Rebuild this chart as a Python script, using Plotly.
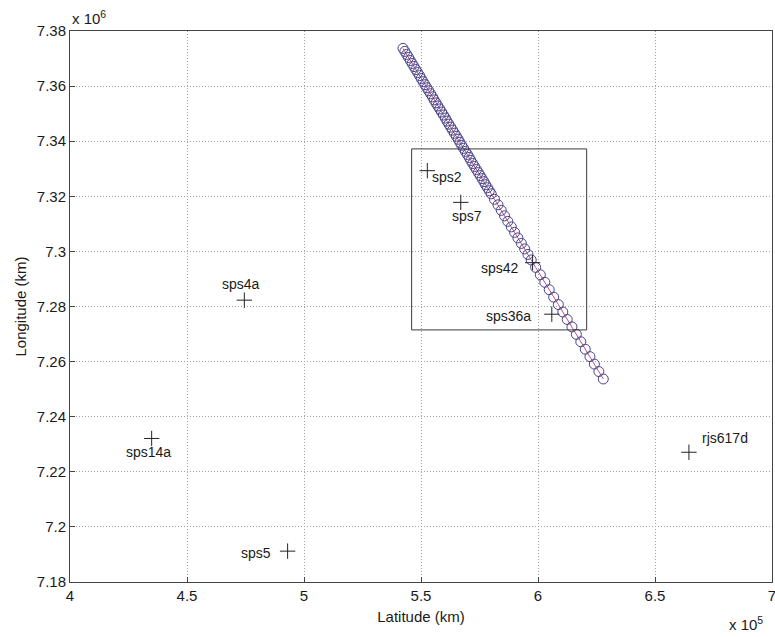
import plotly.graph_objects as go

# Station positions (x in units of 1e5 km, y in units of 1e6 km)
station_names = ["sps2", "sps7", "sps42", "sps36a", "sps4a", "sps14a", "sps5", "rjs617d"]
station_x = [5.527, 5.670, 5.977, 6.059, 4.745, 4.349, 4.930, 6.645]
station_y = [7.3293, 7.3178, 7.2959, 7.2772, 7.2823, 7.2321, 7.1912, 7.2271]

# Track points (circles)
track_x = [5.423, 5.431, 5.439, 5.447, 5.454, 5.462, 5.470, 5.478, 5.486, 5.494,
           5.501, 5.509, 5.517, 5.525, 5.533, 5.541, 5.549, 5.556, 5.564, 5.572,
           5.580, 5.588, 5.596, 5.604, 5.611, 5.619, 5.627, 5.635, 5.643, 5.651,
           5.659, 5.666, 5.674, 5.682, 5.690, 5.698, 5.706, 5.713, 5.721, 5.729,
           5.737, 5.745, 5.753, 5.761, 5.769, 5.776, 5.784, 5.792, 5.800,
           5.814, 5.829, 5.843, 5.857, 5.871, 5.886, 5.900, 5.914, 5.929, 5.943,
           5.957, 5.971,
           5.990, 6.010, 6.029, 6.048, 6.067, 6.087, 6.106, 6.125, 6.145, 6.164,
           6.183, 6.202, 6.222, 6.241, 6.260, 6.279]
track_y = [7.3737, 7.3726, 7.3715, 7.3704, 7.3693, 7.3682, 7.3671, 7.3660, 7.3649, 7.3638,
           7.3627, 7.3616, 7.3605, 7.3594, 7.3583, 7.3572, 7.3561, 7.3550, 7.3539, 7.3528,
           7.3517, 7.3506, 7.3495, 7.3484, 7.3473, 7.3462, 7.3451, 7.3440, 7.3429, 7.3418,
           7.3407, 7.3396, 7.3385, 7.3374, 7.3363, 7.3352, 7.3341, 7.3330, 7.3319, 7.3308,
           7.3297, 7.3286, 7.3275, 7.3264, 7.3253, 7.3242, 7.3231, 7.3220, 7.3209,
           7.3189, 7.3169, 7.3149, 7.3129, 7.3109, 7.3089, 7.3069, 7.3049, 7.3029, 7.3009,
           7.2989, 7.2969,
           7.2942, 7.2915, 7.2888, 7.2861, 7.2834, 7.2807, 7.2780, 7.2753, 7.2726, 7.2699,
           7.2672, 7.2645, 7.2618, 7.2591, 7.2564, 7.2537]

# Region box
box_x = [5.460, 6.208]
box_y = [7.2715, 7.3372]

# Ticks
x_tickvals = [4, 4.5, 5, 5.5, 6, 6.5, 7]
x_ticktext = ["4", "4.5", "5", "5.5", "6", "6.5", "7"]
y_tickvals = [7.18, 7.20, 7.22, 7.24, 7.26, 7.28, 7.30, 7.32, 7.34, 7.36, 7.38]
y_ticktext = ["7.18", "7.2", "7.22", "7.24", "7.26", "7.28", "7.3", "7.32", "7.34", "7.36", "7.38"]

# label placement style (pixel offsets from marker, anchor)
label_style = [
    ("left", 3, -6),
    ("center", 6, -14),
    ("right", -12, -5),
    ("right", -19, -2),
    ("center", -3, 16),
    ("center", -3, -14),
    ("right", -15, -2),
    ("left", 11, 14),
]

FONT = "Liberation Sans, Arial, sans-serif"
TXT = "#1a1a1a"

fig = go.Figure()

fig.add_trace(go.Scatter(
    x=track_x, y=track_y, mode="lines+markers",
    line=dict(color="#c0508a", width=1),
    marker=dict(symbol="circle-open", size=10, color="#4a4488", line=dict(width=1)),
    hoverinfo="skip", showlegend=False,
))

fig.add_trace(go.Scatter(
    x=station_x, y=station_y, mode="markers",
    marker=dict(symbol="cross-thin-open", size=11, color="#222222", line=dict(width=1, color="#222222")),
    showlegend=False,
))

for name, sx, sy, (anc, dx, dy) in zip(station_names, station_x, station_y, label_style):
    fig.add_annotation(x=sx, y=sy, xref="x", yref="y", text=name, showarrow=False,
                       xanchor=anc, yanchor="middle", xshift=dx, yshift=dy,
                       font=dict(family=FONT, size=14, color=TXT))

fig.add_shape(type="rect", xref="x", yref="y",
              x0=box_x[0], x1=box_x[1], y0=box_y[0], y1=box_y[1],
              line=dict(color="#3a3a3a", width=1))

fig.add_annotation(x=0.99, y=-0.075, xref="paper", yref="paper", text="x 10<sup>5</sup>",
                   showarrow=False, xanchor="right", yanchor="middle",
                   font=dict(family=FONT, size=15, color=TXT))
fig.add_annotation(x=0.0, y=1.024, xref="paper", yref="paper", text="x 10<sup>6</sup>",
                   showarrow=False, xanchor="left", yanchor="middle",
                   font=dict(family=FONT, size=15, color=TXT))

axis_common = dict(
    showgrid=True, gridcolor="#a0a0a0", griddash="1px,2px", gridwidth=1,
    showline=True, linecolor="#444444", linewidth=1, mirror=True,
    ticks="inside", ticklen=5, tickcolor="#444444",
    zeroline=False, ticklabeloverflow="allow", automargin=False,
    tickfont=dict(family=FONT, size=15, color=TXT),
)

fig.update_xaxes(range=[4, 7], tickvals=x_tickvals, ticktext=x_ticktext,
                 title=dict(text="Latitude (km)", font=dict(family=FONT, size=15, color=TXT), standoff=8),
                 **axis_common)
fig.update_yaxes(range=[7.18, 7.38], tickvals=y_tickvals, ticktext=y_ticktext,
                 title=dict(text="Longitude (km)", font=dict(family=FONT, size=15, color=TXT), standoff=6),
                 **axis_common)

fig.update_layout(
    width=775, height=637,
    margin=dict(l=70, r=3, t=31, b=55),
    paper_bgcolor="white", plot_bgcolor="white",
    showlegend=False,
)

fig.write_html("out.html")
